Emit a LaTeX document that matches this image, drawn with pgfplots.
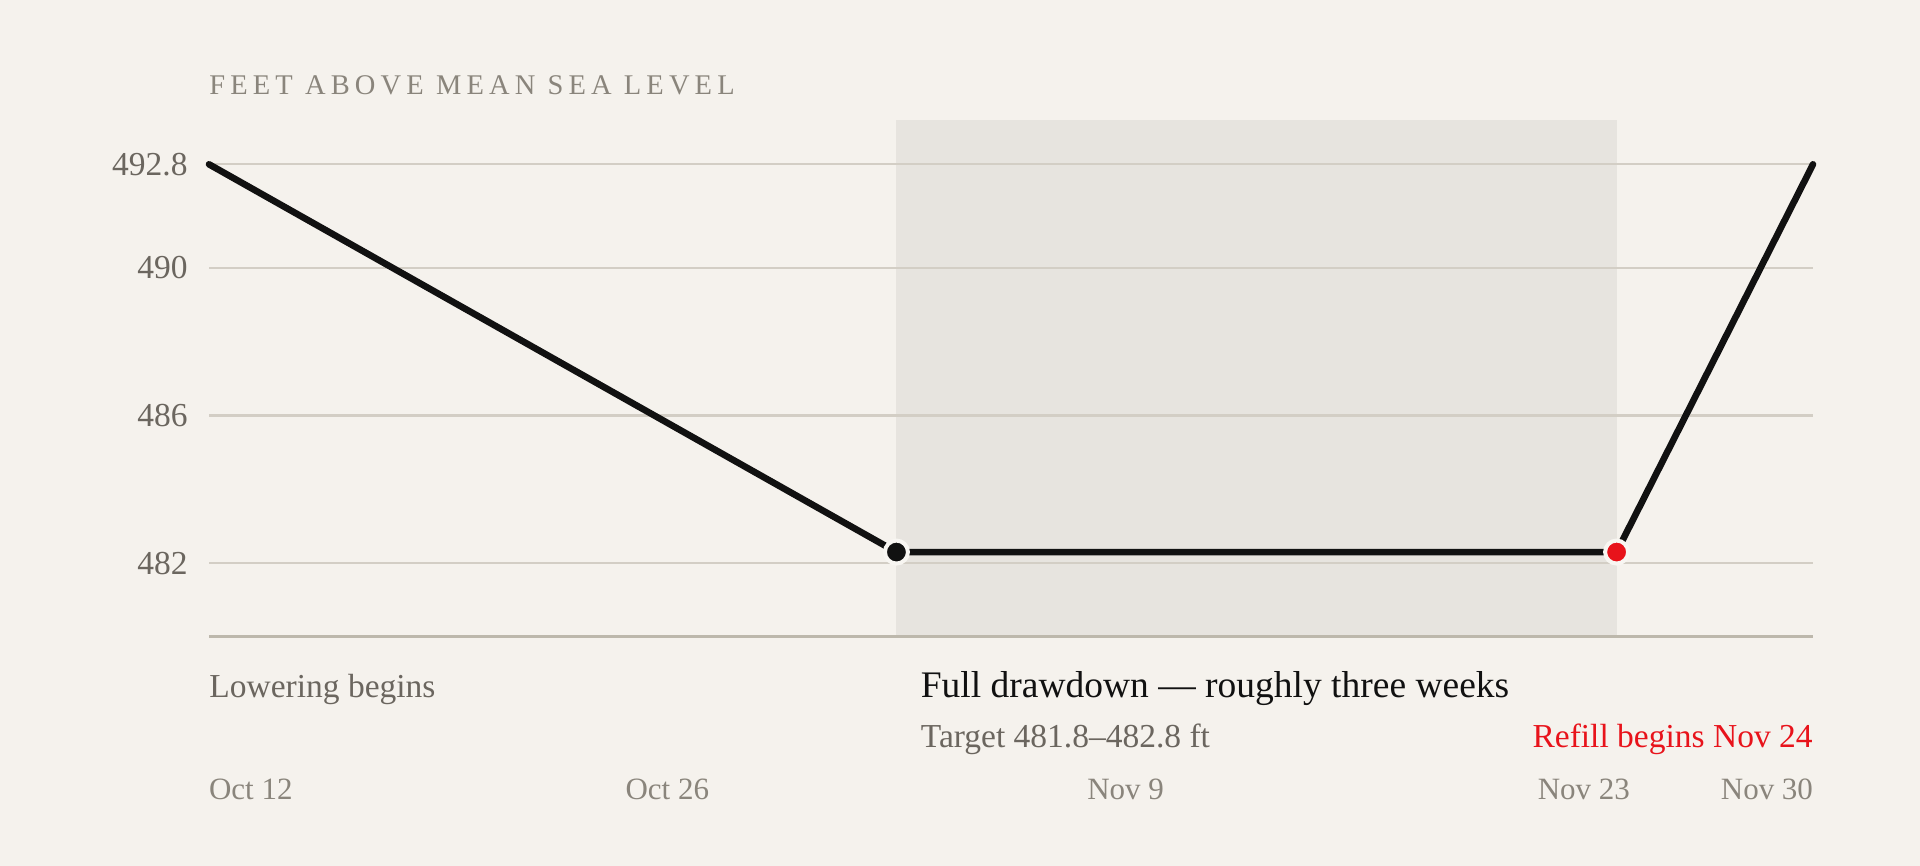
\documentclass[border=0pt]{standalone}
\usepackage{fontspec}
\setmainfont{Liberation Serif}
\newfontfamily\spaced[LetterSpace=18]{Liberation Serif}
\usepackage{pgfplots}
\pgfplotsset{compat=1.18}
\definecolor{bg}{HTML}{F5F2ED}
\definecolor{shade}{HTML}{E7E4DF}
\definecolor{gridc}{HTML}{D3CEC5}
\definecolor{basec}{HTML}{BDB8AC}
\definecolor{ink}{HTML}{111111}
\definecolor{tickgray}{HTML}{6B665F}
\definecolor{lightgray}{HTML}{8A857C}
\definecolor{redc}{HTML}{E8131B}
\definecolor{ring}{HTML}{F8F6F2}
\begin{document}
\begin{tikzpicture}
\begin{axis}[
  set layers,
  at={(104.5pt,114.5pt)}, anchor=south west,
  scale only axis, width=802pt, height=258.5pt,
  xmin=0, xmax=49, ymin=480, ymax=494,
  clip=false,
  axis x line*=bottom, axis y line*=left,
  y axis line style={draw=none},
  x axis line style={draw=basec, line width=1.5pt, -},
  xtick={0,14,28,42,49},
  xticklabels={\rlap{Oct 12}, Oct 26, Nov 9, Nov 23, \llap{Nov 30}},
  ytick={482,486,490,492.8},
  yticklabels={482,486,490,492.8},
  major tick length=0pt,
  tick style={draw=none},
  xticklabel style={anchor=base, inner sep=0pt, yshift=-81.5pt, font=\fontsize{15.5}{18}\selectfont, text=lightgray},
  yticklabel style={anchor=east, inner sep=0pt, xshift=-10.5pt, font=\fontsize{16.75}{20}\selectfont, text=tickgray},
  ymajorgrids, grid style={draw=gridc, line width=1.1pt},
]
\begin{pgfonlayer}{axis background}
\fill[bg] ([xshift=-104.5pt,yshift=-114.5pt]rel axis cs:0,0) rectangle ([xshift=53.5pt,yshift=60pt]rel axis cs:1,1);
\end{pgfonlayer}
\addplot[on layer=axis background, fill=shade, draw=none] coordinates {(21,480) (21,494) (43,494) (43,480)} -- cycle;
\addplot[ink, line width=3.3pt, line join=round, line cap=round] coordinates {(0,492.8) (21,482.3) (43,482.3) (49,492.8)};
\addplot[only marks, mark=*, mark size=5.75pt, mark options={fill=ink, draw=ring, line width=2pt}] coordinates {(21,482.3)};
\addplot[only marks, mark=*, mark size=5.75pt, mark options={fill=redc, draw=ring, line width=2pt}] coordinates {(43,482.3)};
\node[anchor=base west, inner sep=0pt, text=lightgray, font=\spaced\fontsize{14.25}{17}\selectfont] at ([yshift=12.5pt]axis cs:0,494) {FEET ABOVE MEAN SEA LEVEL};
\node[anchor=base west, inner sep=0pt, text=tickgray, font=\fontsize{16.75}{20}\selectfont] at ([yshift=-30.5pt]axis cs:0,480) {Lowering begins};
\node[anchor=base west, inner sep=0pt, text=ink, font=\fontsize{18.75}{22}\selectfont] at ([xshift=12pt,yshift=-30.5pt]axis cs:21,480) {Full drawdown — roughly three weeks};
\node[anchor=base west, inner sep=0pt, text=tickgray, font=\fontsize{16.75}{20}\selectfont] at ([xshift=12pt,yshift=-55.5pt]axis cs:21,480) {Target 481.8–482.8 ft};
\node[anchor=base east, inner sep=0pt, text=redc, font=\fontsize{16.75}{20}\selectfont] at ([yshift=-55.5pt]axis cs:49,480) {Refill begins Nov 24};
\end{axis}
\end{tikzpicture}
\end{document}
